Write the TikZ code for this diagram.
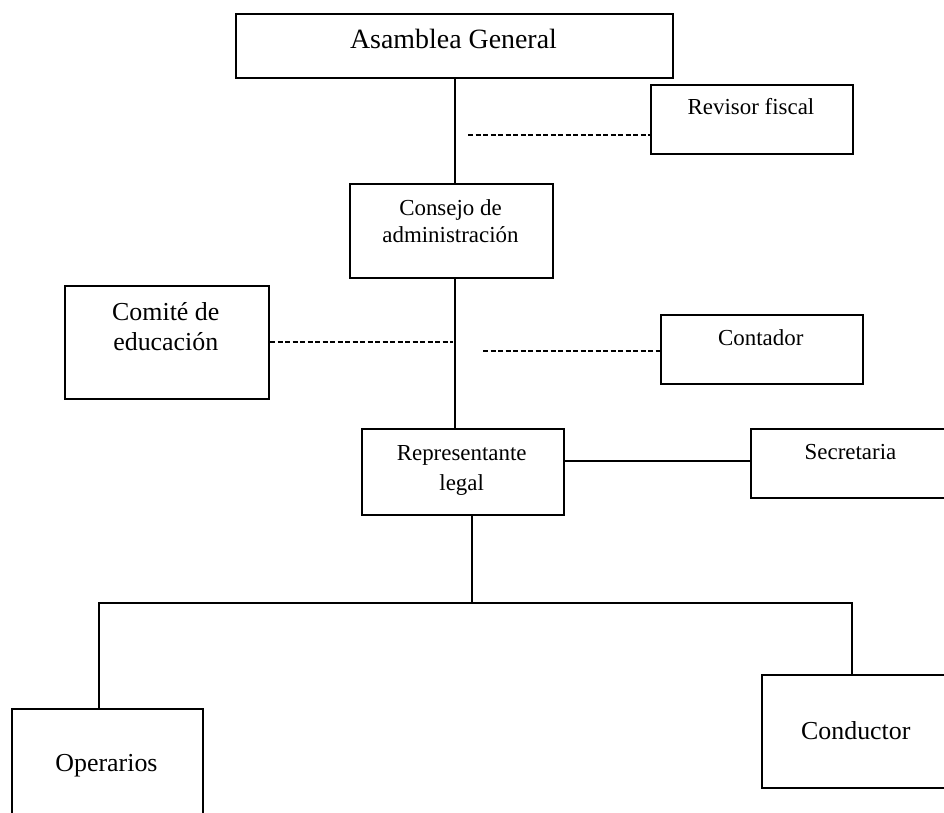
\documentclass[tikz,border=0pt]{standalone}
\usepackage{fontspec}
\setmainfont{Liberation Serif}
\begin{document}
\begin{tikzpicture}[x=1bp,y=-1bp,
  box/.style={draw=black, line width=2bp, rectangle, inner sep=0pt, anchor=north west},
  lbl/.style={inner sep=0pt, anchor=base, align=center, text=black},
  small/.style={font=\fontsize{23}{26.5}\selectfont},
  mid/.style={font=\fontsize{26}{30}\selectfont},
  big/.style={font=\fontsize{28}{32}\selectfont},
  conn/.style={draw=black, line width=2bp},
  dconn/.style={draw=black, line width=2bp, dash pattern=on 5bp off 2.5bp}]
\useasboundingbox (0,0) rectangle (944,813);
\clip (0,0) rectangle (944,813);
\fill[white] (0,0) rectangle (944,813);
% boxes
\node[box, minimum width=437bp, minimum height=64bp] (asam) at (235,13) {};
\node[box, minimum width=202bp, minimum height=69bp] (rev) at (650,84) {};
\node[box, minimum width=203bp, minimum height=94bp] (cons) at (349,183) {};
\node[box, minimum width=204bp, minimum height=113bp] (com) at (64,285) {};
\node[box, minimum width=202bp, minimum height=69bp] (cont) at (660,314) {};
\node[box, minimum width=202bp, minimum height=86bp] (rep) at (361,428) {};
\node[box, minimum width=205bp, minimum height=69bp] (sec) at (750,428) {};
\node[box, minimum width=194bp, minimum height=113bp] (cond) at (761,674) {};
\node[box, minimum width=191bp, minimum height=125bp] (oper) at (11,708) {};
% labels
\node[lbl, big] (tasam) at (453.5,48.7) {Asamblea General};
\node[lbl, small] (trev) at (751,114) {Revisor fiscal};
\node[lbl, small] (tcons) at (450.5,242) {Consejo de\\administración};
\node[lbl, mid] (tcom) at (165.8,350) {Comité de\\educación};
\node[lbl, small] (tcont) at (760.8,345) {Contador};
\node[lbl, font=\fontsize{23}{30}\selectfont] (trep) at (461.7,490) {Representante\\legal};
\node[lbl, small] (tsec) at (850.5,459) {Secretaria};
\node[lbl, mid] (tcond) at (855.8,739) {Conductor};
\node[lbl, mid] (toper) at (106.5,771.7) {Operarios};
% helper coordinates
\coordinate (spine) at (455,0);
\coordinate (d1) at (468,135);
\coordinate (d2) at (453,342);
\coordinate (d3) at (483,351);
\coordinate (h1) at (0,461);
\coordinate (j) at (472,603);
\coordinate (bl) at (99,603);
\coordinate (br) at (852,603);
% connectors
\draw[conn] (asam.south -| spine) -- (cons.north -| spine);
\draw[conn] (cons.south -| spine) -- (rep.north -| spine);
\draw[dconn] (d1) -- (d1 -| rev.west);
\draw[dconn] (com.east |- d2) -- (d2);
\draw[dconn] (d3) -- (d3 -| cont.west);
\draw[conn] (rep.east |- h1) -- (sec.west |- h1);
\draw[conn] (rep.south -| j) -- (j);
\draw[conn] (oper.north -| bl) -- (bl) -- (br) -- (cond.north -| br);
\end{tikzpicture}
\end{document}
